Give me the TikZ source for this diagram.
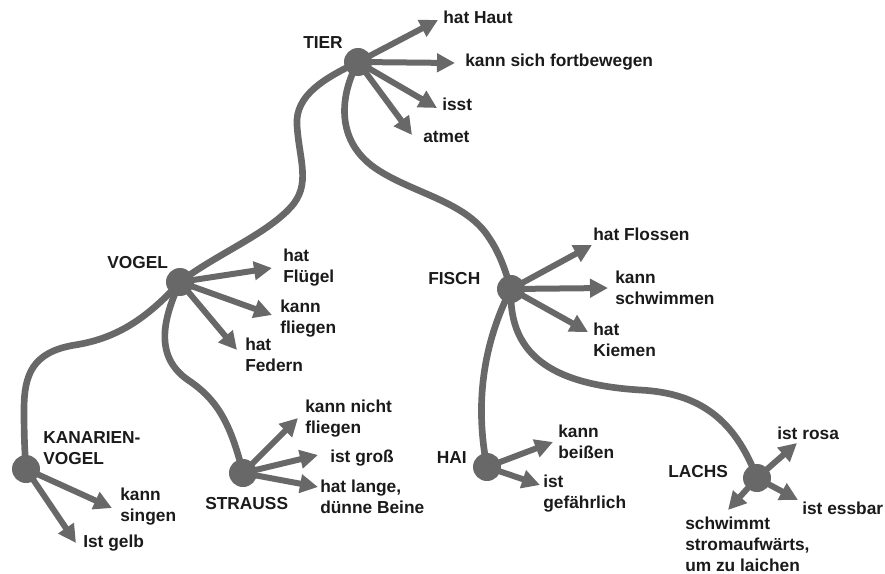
\documentclass[tikz,border=0pt]{standalone}
\usepackage{fontspec}
\setmainfont{Liberation Sans}
\usetikzlibrary{arrows.meta}
\definecolor{linkgray}{RGB}{104,104,104}
\definecolor{ink}{RGB}{26,26,26}
\begin{document}
\begin{tikzpicture}[x=0.75pt,y=-0.75pt,
  link/.style={draw=linkgray, line width=5pt, line cap=round},
  feat/.style={draw=linkgray, line width=4.5pt, -{Triangle[length=13.5pt,width=13.5pt]}},
  dot/.style={circle, fill=linkgray, minimum size=21pt, inner sep=0pt},
  lbl/.style={font=\bfseries\fontsize{13}{15.75}\selectfont, align=left, inner sep=0pt, text=ink, anchor=west}]
\useasboundingbox (0,0) rectangle (885,574);

% concept centres
\coordinate (tier)  at (358,62);
\coordinate (vogel) at (180,282);
\coordinate (kan)   at (26,469);
\coordinate (str)   at (243,473);
\coordinate (fisch) at (511,289);
\coordinate (hai)   at (487,467);
\coordinate (lachs) at (757,478);

% hierarchy links
\draw[link] (tier) .. controls (325,78) and (295,95) .. (297,125)
                   .. controls (299,160) and (312,185) .. (290,208)
                   .. controls (265,235) and (215,255) .. (vogel);
\draw[link] (tier) .. controls (340,95) and (335,140) .. (375,168)
                   .. controls (410,192) and (460,200) .. (485,232)
                   .. controls (500,252) and (505,270) .. (fisch);
\draw[link] (vogel) .. controls (150,315) and (120,338) .. (75,345)
                    .. controls (32,352) and (24,375) .. (24,410)
                    .. controls (24,440) and (25,455) .. (kan);
\draw[link] (vogel) .. controls (165,315) and (152,355) .. (188,380)
                    .. controls (215,398) and (230,420) .. (str);
\draw[link] (fisch) .. controls (490,330) and (472,390) .. (hai);
\draw[link] (fisch) .. controls (508,360) and (560,385) .. (640,390)
                    .. controls (700,393) and (735,420) .. (lachs);

% arrow tips of the properties
\coordinate (t1) at (438,20);  \coordinate (t2) at (455,63);
\coordinate (t3) at (437,108); \coordinate (t4) at (412,135);
\coordinate (v1) at (272,268); \coordinate (v2) at (272,315);
\coordinate (v3) at (237,350);
\coordinate (k1) at (112,508); \coordinate (k2) at (76,543);
\coordinate (s1) at (298,418); \coordinate (s2) at (318,455);
\coordinate (s3) at (318,487);
\coordinate (f1) at (592,245); \coordinate (f2) at (608,288);
\coordinate (f3) at (588,332);
\coordinate (h1) at (553,442); \coordinate (h2) at (540,485);
\coordinate (l1) at (797,443); \coordinate (l2) at (798,500);
\coordinate (l3) at (728,510);

\foreach \c in {t1,t2,t3,t4} \draw[feat] (tier) -- (\c);
\foreach \c in {v1,v2,v3} \draw[feat] (vogel) -- (\c);
\foreach \c in {k1,k2} \draw[feat] (kan) -- (\c);
\foreach \c in {s1,s2,s3} \draw[feat] (str) -- (\c);
\foreach \c in {f1,f2,f3} \draw[feat] (fisch) -- (\c);
\foreach \c in {h1,h2} \draw[feat] (hai) -- (\c);
\foreach \c in {l1,l2,l3} \draw[feat] (lachs) -- (\c);

% dots on top
\node[dot] (tierdot)  at (tier)  {};
\node[dot] (vogeldot) at (vogel) {};
\node[dot] (kandot)   at (kan)   {};
\node[dot] (strdot)   at (str)   {};
\node[dot] (fischdot) at (fisch) {};
\node[dot] (haidot)   at (hai)   {};
\node[dot] (lachsdot) at (lachs) {};

% concept names
\node[lbl] (ntier)  at (303,43)  {TIER};
\node[lbl] (nvogel) at (107,263) {VOGEL};
\node[lbl] (nkan)   at (43,448)  {KANARIEN-\\VOGEL};
\node[lbl] (nstr)   at (205,504) {STRAUSS};
\node[lbl] (nfisch) at (428,279) {FISCH};
\node[lbl, anchor=east] (nhai) at (467,458) {HAI};
\node[lbl] (nlachs) at (668,472) {LACHS};

% properties
\node[lbl] (p1)  at (443,17)  {hat Haut};
\node[lbl] (p2)  at (465,62)  {kann sich fortbewegen};
\node[lbl] (p3)  at (442,104) {isst};
\node[lbl] (p4)  at (423,137) {atmet};
\node[lbl] (p5)  at (283,268) {hat\\Flügel};
\node[lbl] (p6)  at (280,319) {kann\\fliegen};
\node[lbl] (p7)  at (245,355) {hat\\Federn};
\node[lbl] (p8)  at (120,507) {kann\\singen};
\node[lbl] (p9)  at (83,543)  {Ist gelb};
\node[lbl] (p10) at (305,419) {kann nicht\\fliegen};
\node[lbl] (p11) at (330,458) {ist groß};
\node[lbl] (p12) at (320,497) {hat lange,\\dünne Beine};
\node[lbl] (p13) at (593,234) {hat Flossen};
\node[lbl] (p14) at (615,288) {kann\\schwimmen};
\node[lbl] (p15) at (593,340) {hat\\Kiemen};
\node[lbl] (p16) at (558,442) {kann\\beißen};
\node[lbl] (p17) at (543,494) {ist\\gefährlich};
\node[lbl] (p18) at (777,433) {ist rosa};
\node[lbl] (p19) at (802,508) {ist essbar};
\node[lbl] (p20) at (685,544) {schwimmt\\stromaufwärts,\\um zu laichen};
\end{tikzpicture}
\end{document}
